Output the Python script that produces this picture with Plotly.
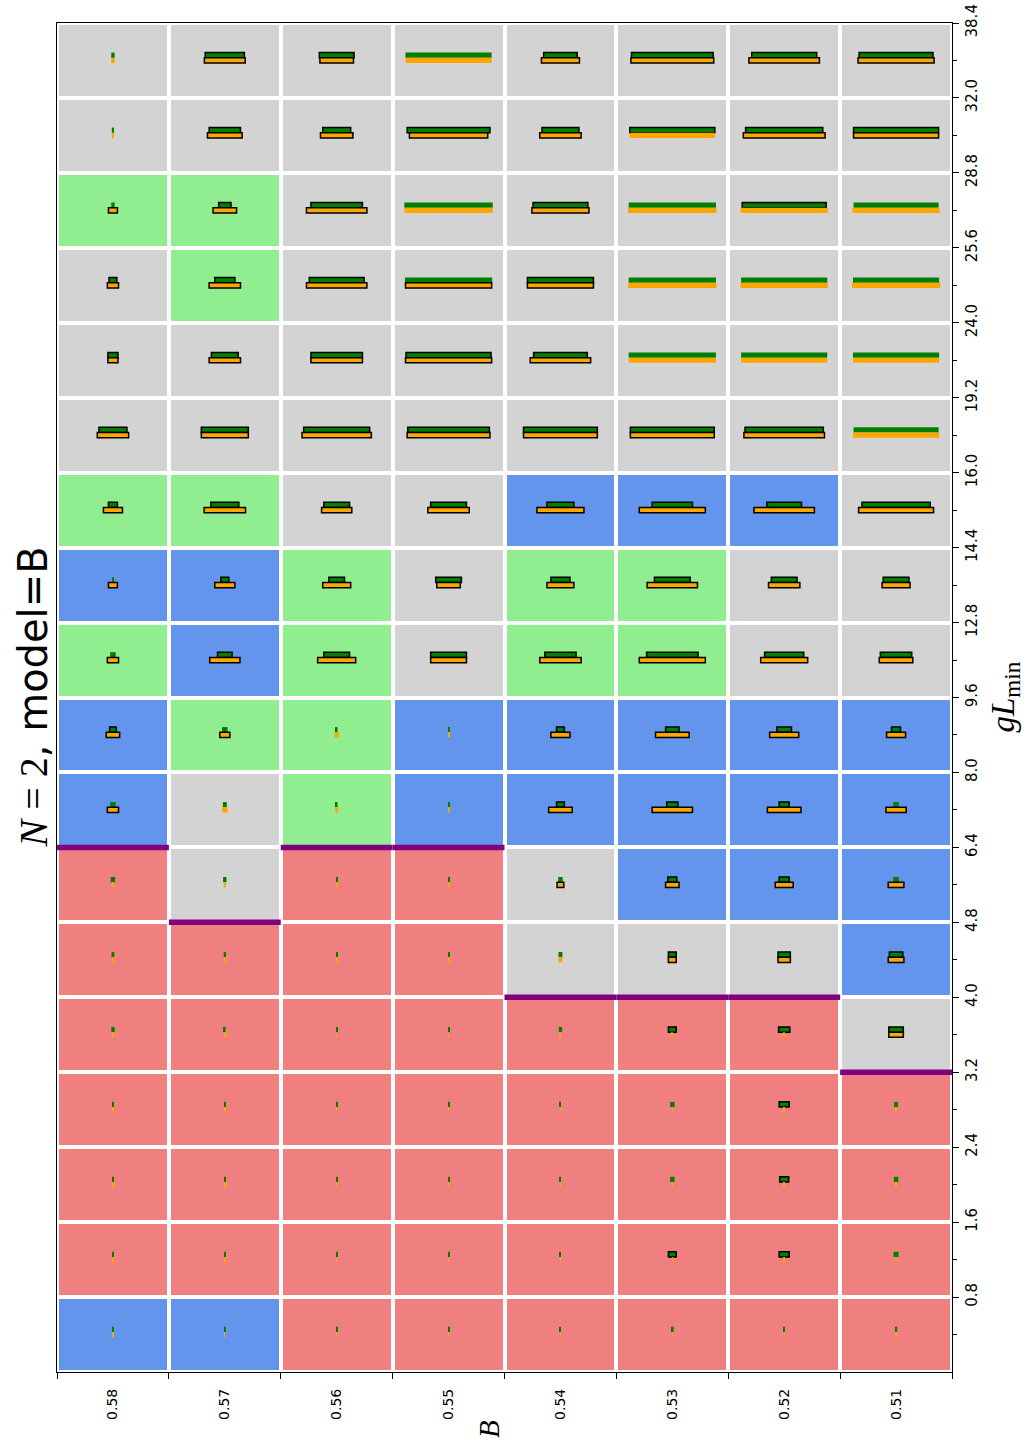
import plotly.graph_objects as go

# ---------------- data ----------------
B_values = [0.58, 0.57, 0.56, 0.55, 0.54, 0.53, 0.52, 0.51]
gL_edges = [0.0, 0.8, 1.6, 2.4, 3.2, 4.0, 4.8, 6.4, 8.0, 9.6, 12.8, 14.4,
            16.0, 19.2, 24.0, 25.6, 28.8, 32.0, 38.4]

# cell class per gL bin (bottom -> top), one letter per B column
# R = red, N = neutral gray, B = blue, L = light green
cell_class = [
    "BBRRRRRR",  # 0.0-0.8
    "RRRRRRRR",  # 0.8-1.6
    "RRRRRRRR",  # 1.6-2.4
    "RRRRRRRR",  # 2.4-3.2
    "RRRRRRRN",  # 3.2-4.0
    "RRRRNNNB",  # 4.0-4.8
    "RNRRNBBB",  # 4.8-6.4
    "BNLBBBBB",  # 6.4-8.0
    "BLLBBBBB",  # 8.0-9.6
    "LBLNLLNN",  # 9.6-12.8
    "BBLNLLNN",  # 12.8-14.4
    "LLNNBBBN",  # 14.4-16.0
    "NNNNNNNN",  # 16.0-19.2
    "NNNNNNNN",  # 19.2-24.0
    "NLNNNNNN",  # 24.0-25.6
    "LLNNNNNN",  # 25.6-28.8
    "NNNNNNNN",  # 28.8-32.0
    "NNNNNNNN",  # 32.0-38.4
]

green_size = [
    [0.005, 0.005, 0.01, 0.01, 0.01, 0.025, 0.015, 0.02],
    [0.01, 0.01, 0.01, 0.01, 0.01, 0.07, 0.09, 0.045],
    [0.01, 0.01, 0.01, 0.01, 0.01, 0.04, 0.08, 0.04],
    [0.01, 0.01, 0.01, 0.01, 0.01, 0.04, 0.09, 0.035],
    [0.03, 0.015, 0.01, 0.01, 0.03, 0.07, 0.10, 0.13],
    [0.025, 0.02, 0.01, 0.01, 0.035, 0.07, 0.11, 0.12],
    [0.04, 0.03, 0.01, 0.01, 0.04, 0.08, 0.09, 0.05],
    [0.05, 0.035, 0.015, 0.01, 0.07, 0.10, 0.09, 0.05],
    [0.06, 0.05, 0.015, 0.01, 0.07, 0.12, 0.13, 0.08],
    [0.05, 0.13, 0.23, 0.32, 0.28, 0.46, 0.35, 0.28],
    [0.015, 0.07, 0.14, 0.23, 0.17, 0.32, 0.23, 0.23],
    [0.08, 0.25, 0.23, 0.32, 0.24, 0.36, 0.31, 0.61],
    [0.25, 0.42, 0.59, 0.73, 0.66, 0.75, 0.70, 0.76],
    [0.09, 0.24, 0.46, 0.76, 0.48, 0.78, 0.77, 0.77],
    [0.07, 0.18, 0.49, 0.78, 0.59, 0.78, 0.77, 0.77],
    [0.03, 0.11, 0.46, 0.79, 0.49, 0.78, 0.75, 0.76],
    [0.02, 0.28, 0.25, 0.74, 0.33, 0.76, 0.69, 0.76],
    [0.03, 0.35, 0.31, 0.77, 0.30, 0.73, 0.58, 0.66],
]

orange_size = [
    [0.003, 0.003, 0.003, 0.003, 0.003, 0.003, 0.003, 0.003],
    [0.004, 0.004, 0.004, 0.004, 0.004, 0.004, 0.004, 0.004],
    [0.004, 0.004, 0.004, 0.004, 0.004, 0.004, 0.004, 0.01],
    [0.004, 0.004, 0.004, 0.004, 0.004, 0.004, 0.01, 0.01],
    [0.004, 0.004, 0.004, 0.004, 0.01, 0.01, 0.01, 0.13],
    [0.005, 0.005, 0.01, 0.01, 0.035, 0.07, 0.11, 0.14],
    [0.02, 0.02, 0.01, 0.01, 0.06, 0.12, 0.16, 0.14],
    [0.10, 0.05, 0.025, 0.01, 0.21, 0.36, 0.30, 0.18],
    [0.12, 0.09, 0.04, 0.01, 0.17, 0.30, 0.26, 0.17],
    [0.10, 0.27, 0.34, 0.32, 0.37, 0.59, 0.42, 0.30],
    [0.08, 0.18, 0.25, 0.21, 0.24, 0.45, 0.28, 0.25],
    [0.17, 0.37, 0.27, 0.37, 0.42, 0.59, 0.54, 0.67],
    [0.28, 0.42, 0.62, 0.74, 0.66, 0.75, 0.72, 0.77],
    [0.09, 0.28, 0.46, 0.77, 0.54, 0.78, 0.77, 0.77],
    [0.10, 0.28, 0.54, 0.77, 0.59, 0.79, 0.78, 0.79],
    [0.08, 0.21, 0.54, 0.79, 0.51, 0.79, 0.78, 0.78],
    [0.02, 0.31, 0.29, 0.70, 0.37, 0.76, 0.73, 0.76],
    [0.03, 0.365, 0.30, 0.77, 0.34, 0.74, 0.63, 0.68],
]

# 1 = bar drawn with a black outline
green_outlined = [
    "00000000", "00000110", "00000010", "00000010", "00000111", "00000111",
    "00000110", "00001110", "10001111", "01111111", "01111111", "11111111",
    "11111110", "11111000", "11101000", "01101010", "01111111", "01101111",
]
orange_outlined = [
    "00000000", "00000000", "00000000", "00000000", "00000001", "00000111",
    "00001111", "10001111", "11001111", "11111111", "11111111", "11111111",
    "11111110", "11111000", "11111000", "11101000", "01111011", "01101111",
]

# upper edge (in gL) of the contiguous red region, per B column
red_top_gL = [6.4, 4.8, 6.4, 6.4, 4.0, 4.0, 4.0, 3.2]

# ---------------- build ----------------
class_code = {"R": 0, "N": 1, "B": 2, "L": 3}
n_bins = len(gL_edges) - 1
n_cols = len(B_values)
z = [[class_code[c] for c in row] for row in cell_class]
x_centers = list(range(n_cols))
y_centers = [j + 0.5 for j in range(n_bins)]

colorscale = [
    [0.0, "#F08080"], [0.25, "#F08080"],
    [0.25, "#D3D3D3"], [0.5, "#D3D3D3"],
    [0.5, "#6495ED"], [0.75, "#6495ED"],
    [0.75, "#90EE90"], [1.0, "#90EE90"],
]

fig = go.Figure()
fig.add_trace(go.Heatmap(
    z=z, x=x_centers, y=y_centers, colorscale=colorscale, zmin=-0.5, zmax=3.5,
    showscale=False, xgap=4, ygap=4, hoverinfo="skip",
))

bar_thick = 0.07
for sizes, flags, color, dy in [
    (green_size, green_outlined, "#008000", bar_thick),
    (orange_size, orange_outlined, "#FFA500", 0.0),
]:
    xs, bases, ys, lws = [], [], [], []
    for j in range(n_bins):
        for i in range(n_cols):
            w = sizes[j][i]
            xs.append(w)
            bases.append(i - w / 2)
            ys.append(j + 0.5 + dy)
            lws.append(1.5 if flags[j][i] == "1" else 0)
    fig.add_trace(go.Bar(
        orientation="h", x=xs, base=bases, y=ys, width=bar_thick,
        marker=dict(color=color, line=dict(color="black", width=lws)),
        hoverinfo="skip", showlegend=False,
    ))

px_, py_ = [], []
for i, g in enumerate(red_top_gL):
    k = gL_edges.index(g)
    px_ += [i - 0.5, i + 0.5, None]
    py_ += [k, k, None]
fig.add_trace(go.Scatter(x=px_, y=py_, mode="lines",
                         line=dict(color="#800080", width=5.5),
                         hoverinfo="skip", showlegend=False))

xtickfont = dict(family="DejaVu Sans", size=14, color="black")
ytickfont = dict(family="DejaVu Sans", size=15, color="black")
fig.update_layout(
    width=1033, height=1445,
    margin=dict(l=57, r=81, t=23, b=73),
    paper_bgcolor="white", plot_bgcolor="white",
    barmode="overlay", showlegend=False,
    xaxis=dict(
        range=[-0.5, n_cols - 0.5], tickmode="array", tickvals=x_centers,
        ticktext=[f"{b:.2f}" for b in B_values], tickangle=-90,
        ticks="outside", ticklen=10, tickcolor="rgba(0,0,0,0)",
        minor=dict(tickmode="array", tickvals=[i - 0.5 for i in range(n_cols + 1)],
                   ticks="outside", ticklen=6, tickcolor="black", tickwidth=1.2,
                   showgrid=False),
        showline=True, mirror=True, linecolor="black", linewidth=1.3,
        showgrid=False, zeroline=False, tickfont=xtickfont, automargin=False,
        ticklabeloverflow="allow",
    ),
    yaxis=dict(
        side="right", range=[0, n_bins], tickmode="array",
        tickvals=list(range(1, n_bins + 1)),
        ticktext=[f"{v:.1f}" for v in gL_edges[1:]], tickangle=-90,
        ticks="outside", ticklen=6, tickcolor="black", tickwidth=1.2,
        minor=dict(tickmode="array", tickvals=y_centers, ticks="outside",
                   ticklen=3.5, tickcolor="black", tickwidth=1.0, showgrid=False),
        showline=True, mirror=True, linecolor="black", linewidth=1.3,
        showgrid=False, zeroline=False, tickfont=ytickfont, automargin=False,
        ticklabeloverflow="allow",
    ),
    annotations=[
        dict(text='<span style="font-family:Liberation Serif"><i>N</i> = 2</span>, model=B',
             xref="paper", yref="paper", x=(32 - 57) / 895, y=0.5,
             textangle=-90, showarrow=False, xanchor="center", yanchor="middle",
             font=dict(family="DejaVu Sans", size=40, color="black")),
        dict(text="<i>gL</i><sub>min</sub>",
             xref="paper", yref="paper", x=(1005 - 57) / 895, y=0.5,
             textangle=-90, showarrow=False, xanchor="center", yanchor="middle",
             font=dict(family="Liberation Serif", size=33, color="black")),
        dict(text="<i>B</i>",
             xref="paper", yref="paper", x=(489 - 57) / 895, y=(1372 - 1429) / 1349,
             textangle=-90, showarrow=False, xanchor="center", yanchor="middle",
             font=dict(family="Liberation Serif", size=29, color="black")),
    ],
)

# remove the default page-body margin so the figure sits at the window origin
fig.write_html("out.html", config={"displayModeBar": False},
               post_script="document.body.style.margin='0';")
